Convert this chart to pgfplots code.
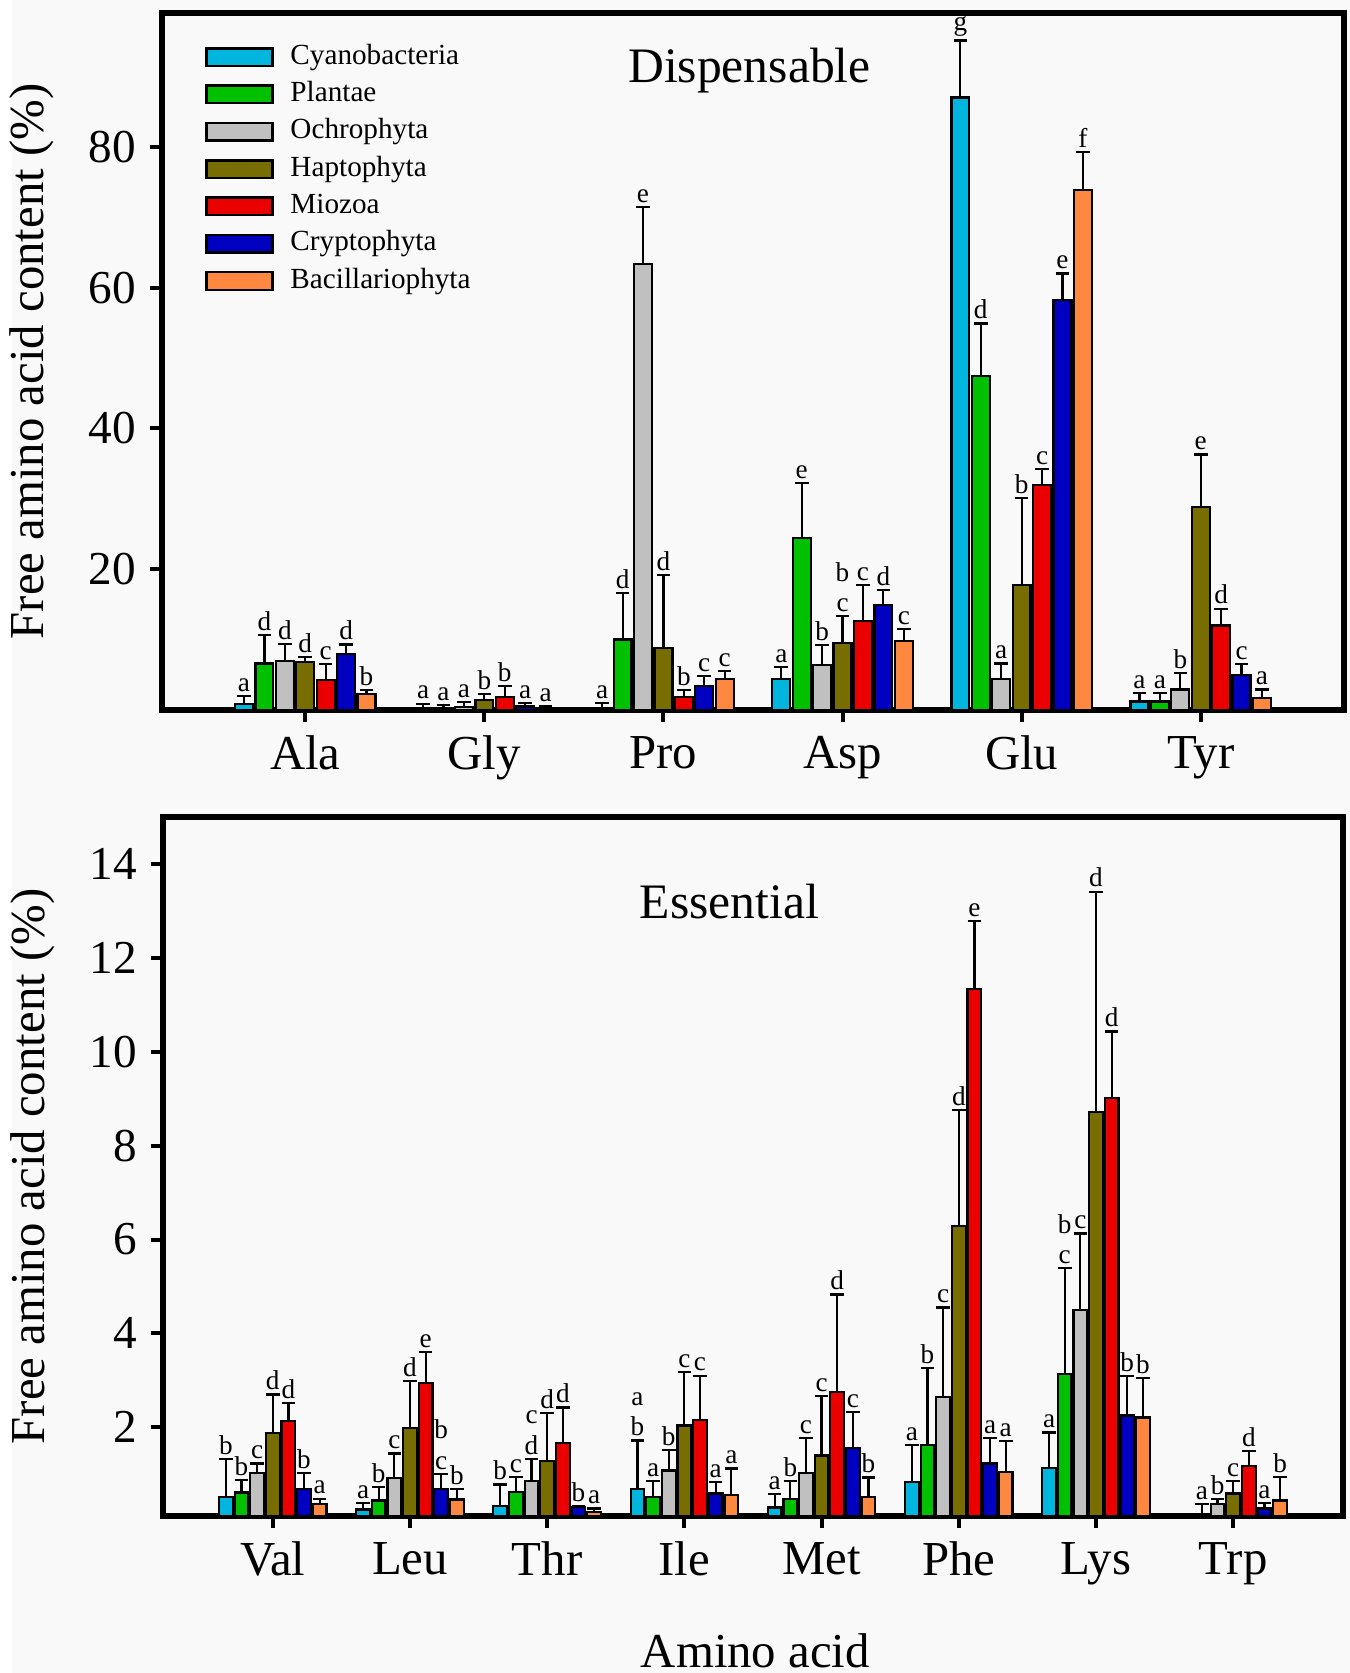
\documentclass[border=0pt]{standalone}
\usepackage{fontspec}
\setmainfont{Liberation Serif}
\usepackage{pgfplots}
\usepackage{pgfplotstable}
\pgfplotsset{compat=1.18}
\definecolor{cCy}{HTML}{00B6DE}
\definecolor{cPl}{HTML}{00C000}
\definecolor{cOc}{HTML}{C0C0C0}
\definecolor{cHa}{HTML}{776D00}
\definecolor{cMi}{HTML}{EB0000}
\definecolor{cCr}{HTML}{0000C0}
\definecolor{cBa}{HTML}{FF8840}
\definecolor{bgc}{HTML}{F9F9F9}
\newcommand{\two}[2]{#1\\#2}
\newcommand{\mainf}{\fontsize{12.2}{14}\selectfont}
\newcommand{\tickf}{\fontsize{11.8}{13}\selectfont}
\newcommand{\legf}{\fontsize{7.3}{8.5}\selectfont}
\newcommand{\labf}{\fontsize{6.8}{7.6}\selectfont}

% ---------- Dispensable ----------
\pgfplotstableread{
x y t l
0 0.8 2.0 a
1 0.25 0.9 a
2 0.2 1.0 a
3 4.4 6.1 a
4 87.0 95.1 g
5 1.2 2.4 a
}\dCy
\pgfplotstableread{
x y t l
0 6.6 10.6 d
1 0.3 0.7 a
2 10.0 16.6 d
3 24.4 32.2 e
4 47.4 54.9 d
5 1.2 2.4 a
}\dPl
\pgfplotstableread{
x y t l
0 7.0 9.4 d
1 0.45 1.1 a
2 63.4 71.4 e
3 6.4 9.2 b
4 4.4 6.6 a
5 2.9 5.3 b
}\dOc
\pgfplotstableread{
x y t l
0 6.8 7.5 d
1 1.4 2.3 b
2 8.8 19.2 d
3 9.5 13.3 \two{b}{c}
4 17.8 30.1 b
5 28.8 36.3 e
}\dHa
\pgfplotstableread{
x y t l
0 4.3 6.5 c
1 1.8 3.4 b
2 1.9 2.8 b
3 12.6 17.8 c
4 32.0 34.2 c
5 12.0 14.4 d
}\dMi
\pgfplotstableread{
x y t l
0 8.0 9.3 d
1 0.5 1.0 a
2 3.4 4.8 c
3 14.9 17.0 d
4 58.2 62.0 e
5 5.0 6.5 c
}\dCr
\pgfplotstableread{
x y t l
0 2.3 2.8 b
1 0.3 0.5 a
2 4.4 5.5 c
3 9.8 11.5 c
4 73.9 79.2 f
5 1.7 2.9 a
}\dBa

% ---------- Essential ----------
\pgfplotstableread{
x y t l
0 0.52 1.33 b
1 0.25 0.38 a
2 0.33 0.78 b
3 0.69 1.72 \two{a}{b}
4 0.29 0.58 a
5 0.84 1.62 a
6 1.14 1.89 a
}\eCy
\pgfplotstableread{
x y t l
0 0.61 0.87 b
1 0.44 0.73 b
2 0.62 0.94 c
3 0.52 0.86 a
4 0.47 0.86 b
5 1.63 3.26 b
6 3.13 5.39 \two{b}{c}
7 0.15 0.36 a
}\ePl
\pgfplotstableread{
x y t l
0 1.03 1.23 c
1 0.92 1.44 c
2 0.86 1.33 \two{c}{d}
3 1.08 1.51 b
4 1.03 1.77 c
5 2.65 4.55 c
6 4.49 6.13 c
7 0.36 0.47 b
}\eOc
\pgfplotstableread{
x y t l
0 1.87 2.70 d
1 1.99 2.99 d
2 1.28 2.30 d
3 2.04 3.17 c
4 1.40 2.67 c
5 6.28 8.76 d
6 8.72 13.41 d
7 0.59 0.86 c
}\eHa
\pgfplotstableread{
x y t l
0 2.14 2.52 d
1 2.95 3.61 e
2 1.67 2.42 d
3 2.15 3.10 c
4 2.75 4.83 d
5 11.33 12.79 e
6 9.02 10.43 d
7 1.17 1.49 d
}\eMi
\pgfplotstableread{
x y t l
0 0.69 1.02 b
1 0.68 1.01 \two{b}{c}
2 0.31 0.33 b
3 0.59 0.83 a
4 1.56 2.32 c
5 1.23 1.77 a
6 2.25 3.09 b
7 0.27 0.38 a
}\eCr
\pgfplotstableread{
x y t l
0 0.36 0.48 a
1 0.46 0.69 b
2 0.20 0.27 a
3 0.56 1.12 a
4 0.51 0.93 b
5 1.04 1.70 a
6 2.21 3.05 b
7 0.44 0.94 b
}\eBa

\newcommand{\series}[3]{%
  \addplot[ybar, bar width=0.1, bar shift=#3, fill=#2, draw=black, line width=0.55pt, forget plot]
    table[x=x, y=y] {#1};
  \addplot[forget plot, draw=none, mark=none,
    error bars/.cd, y dir=plus, y explicit,
    error bar style={line width=0.55pt, draw=black, solid},
    error mark options={rotate=90, mark size=1.7pt, line width=0.55pt, draw=black}]
    table[x expr=\thisrow{x}+(#3), y=y, y error expr=\thisrow{t}-\thisrow{y}] {#1};
  \addplot[forget plot, draw=none, mark=none, nodes near coords, point meta=explicit symbolic,
    nodes near coords style={anchor=south, font=\labf, inner sep=0.4pt, yshift=0.5pt, align=center, text=black}]
    table[x expr=\thisrow{x}+(#3), y=t, meta=l] {#1};
}

\pgfplotsset{
  myaxis/.style={
    scale only axis,
    axis line style={line width=1.3pt},
    tick align=outside,
    major tick length=3pt,
    major tick style={line width=1pt, black},
    xtick pos=bottom, ytick pos=left,
    /pgf/number format/assume math mode=true,
    yticklabel={\pgfmathprintnumber{\tick}},
    yticklabel style={font=\tickf},
    xticklabel style={font=\mainf},
    every axis y label/.style={at={(axis description cs:-0.110,0.5)}, rotate=90, anchor=center, font=\mainf},
  },
}

\begin{document}
\begin{tikzpicture}
\fill[bgc] (0,0) rectangle (337.5pt,418.25pt);
\fill[white] (0,0) rectangle (3pt,418.25pt);
\path[use as bounding box] (0,0) rectangle (337.5pt,418.25pt);

\begin{axis}[myaxis,
  at={(40.5pt,240.75pt)}, anchor=south west,
  width=295.5pt, height=174.25pt,
  xmin=-0.8, xmax=5.8, ymin=0, ymax=99,
  ytick={20,40,60,80},
  xtick={0,...,5}, xticklabels={Ala,Gly,Pro,Asp,Glu,Tyr},
  ylabel={Free amino acid content (\%)},
  legend image code/.code={\draw[#1, line width=0.6pt] (0pt,-2.2pt) rectangle (16.5pt,2.2pt); \path (20.75pt,0pt);},
  legend cell align=left,
  legend style={draw=none, fill=none, inner sep=0pt, outer sep=0pt,
    at={(axis description cs:0.0368,0.776)}, anchor=west,
    row sep=2.43pt, font=\legf,
    nodes={inner sep=0pt, text height=5.2pt, text depth=1.7pt}},
]
\series{\dCy}{cCy}{-0.342}
\series{\dPl}{cPl}{-0.228}
\series{\dOc}{cOc}{-0.114}
\series{\dHa}{cHa}{0}
\series{\dMi}{cMi}{0.114}
\series{\dCr}{cCr}{0.228}
\series{\dBa}{cBa}{0.342}
\addlegendimage{fill=cCy, draw=black}\addlegendentry{Cyanobacteria}
\addlegendimage{fill=cPl, draw=black}\addlegendentry{Plantae}
\addlegendimage{fill=cOc, draw=black}\addlegendentry{Ochrophyta}
\addlegendimage{fill=cHa, draw=black}\addlegendentry{Haptophyta}
\addlegendimage{fill=cMi, draw=black}\addlegendentry{Miozoa}
\addlegendimage{fill=cCr, draw=black}\addlegendentry{Cryptophyta}
\addlegendimage{fill=cBa, draw=black}\addlegendentry{Bacillariophyta}
\node[anchor=base, font=\fontsize{12.4}{14}\selectfont] at (axis description cs:0.497,0.90) {Dispensable};
\end{axis}

\begin{axis}[myaxis,
  at={(40.75pt,39.25pt)}, anchor=south west,
  width=295pt, height=174.75pt,
  xmin=-0.8, xmax=7.8, ymin=0.11, ymax=15,
  ytick={2,4,6,8,10,12,14},
  xtick={0,...,7}, xticklabels={Val,Leu,Thr,Ile,Met,Phe,Lys,Trp},
  ylabel={Free amino acid content (\%)},
  xlabel={Amino acid},
  every axis x label/.style={at={(axis description cs:0.502,0)}, anchor=base, yshift=-37.8pt, font=\mainf},
]
\series{\eCy}{cCy}{-0.342}
\series{\ePl}{cPl}{-0.228}
\series{\eOc}{cOc}{-0.114}
\series{\eHa}{cHa}{0}
\series{\eMi}{cMi}{0.114}
\series{\eCr}{cCr}{0.228}
\series{\eBa}{cBa}{0.342}
\node[anchor=base, font=\fontsize{12.4}{14}\selectfont] at (axis description cs:0.48,0.855) {Essential};
\end{axis}
\end{tikzpicture}
\end{document}
